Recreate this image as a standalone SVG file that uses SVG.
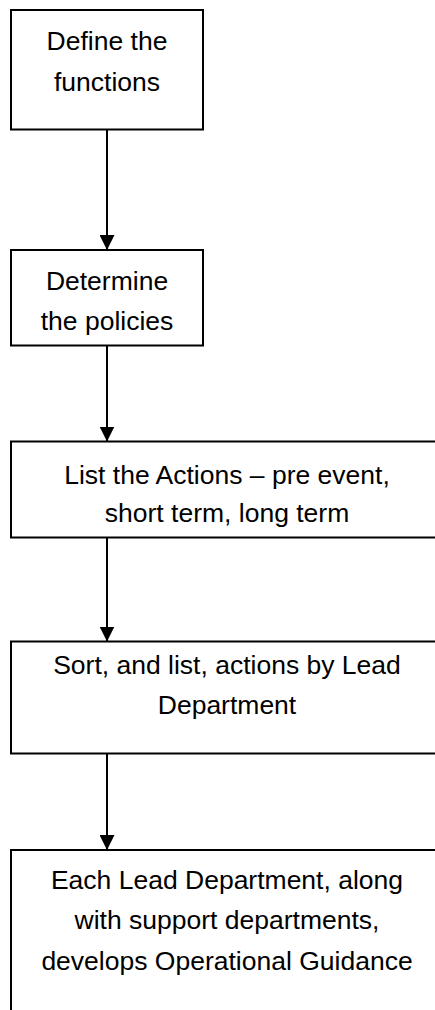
<svg xmlns="http://www.w3.org/2000/svg" width="435" height="1010" viewBox="0 0 435 1010">
  <style>
    .box { fill: #ffffff; stroke: #000000; stroke-width: 2; }
    .lbl { font-family: "Liberation Sans", Arial, sans-serif; font-size: 26.5px; fill: #000000; text-anchor: middle; }
    .conn { stroke: #000000; stroke-width: 2; fill: none; marker-end: url(#arrow); }
  </style>
  <defs>
    <marker id="arrow" markerUnits="userSpaceOnUse" markerWidth="15" markerHeight="15" refX="15" refY="7.5" orient="auto">
      <path d="M0,0 L15,7.5 L0,15 z" fill="#000000"/>
    </marker>
  </defs>
  <rect x="0" y="0" width="435" height="1010" fill="#ffffff"/>
  <g id="connectors">
    <line class="conn" x1="107" y1="130" x2="107" y2="250"/>
    <line class="conn" x1="107" y1="346" x2="107" y2="441.5"/>
    <line class="conn" x1="107" y1="538" x2="107" y2="641.5"/>
    <line class="conn" x1="107" y1="754" x2="107" y2="850"/>
  </g>
  <g id="node1">
    <rect class="box" x="11" y="10" width="192" height="119.5"/>
    <text class="lbl" x="107" y="50">Define the</text>
    <text class="lbl" x="107" y="90.5">functions</text>
  </g>
  <g id="node2">
    <rect class="box" x="11" y="250" width="192" height="95.5"/>
    <text class="lbl" x="107" y="289.5">Determine</text>
    <text class="lbl" x="107" y="329.5">the policies</text>
  </g>
  <g id="node3">
    <rect class="box" x="11" y="441.5" width="432" height="96"/>
    <text class="lbl" x="227" y="484">List the Actions – pre event,</text>
    <text class="lbl" x="227" y="522">short term, long term</text>
  </g>
  <g id="node4">
    <rect class="box" x="11" y="641.5" width="432" height="112"/>
    <text class="lbl" x="227" y="673.5">Sort, and list, actions by Lead</text>
    <text class="lbl" x="227" y="713.5">Department</text>
  </g>
  <g id="node5">
    <rect class="box" x="11" y="850" width="432" height="200"/>
    <text class="lbl" x="227" y="889">Each Lead Department, along</text>
    <text class="lbl" x="227" y="928.5">with support departments,</text>
    <text class="lbl" x="227" y="970">develops Operational Guidance</text>
  </g>
</svg>
